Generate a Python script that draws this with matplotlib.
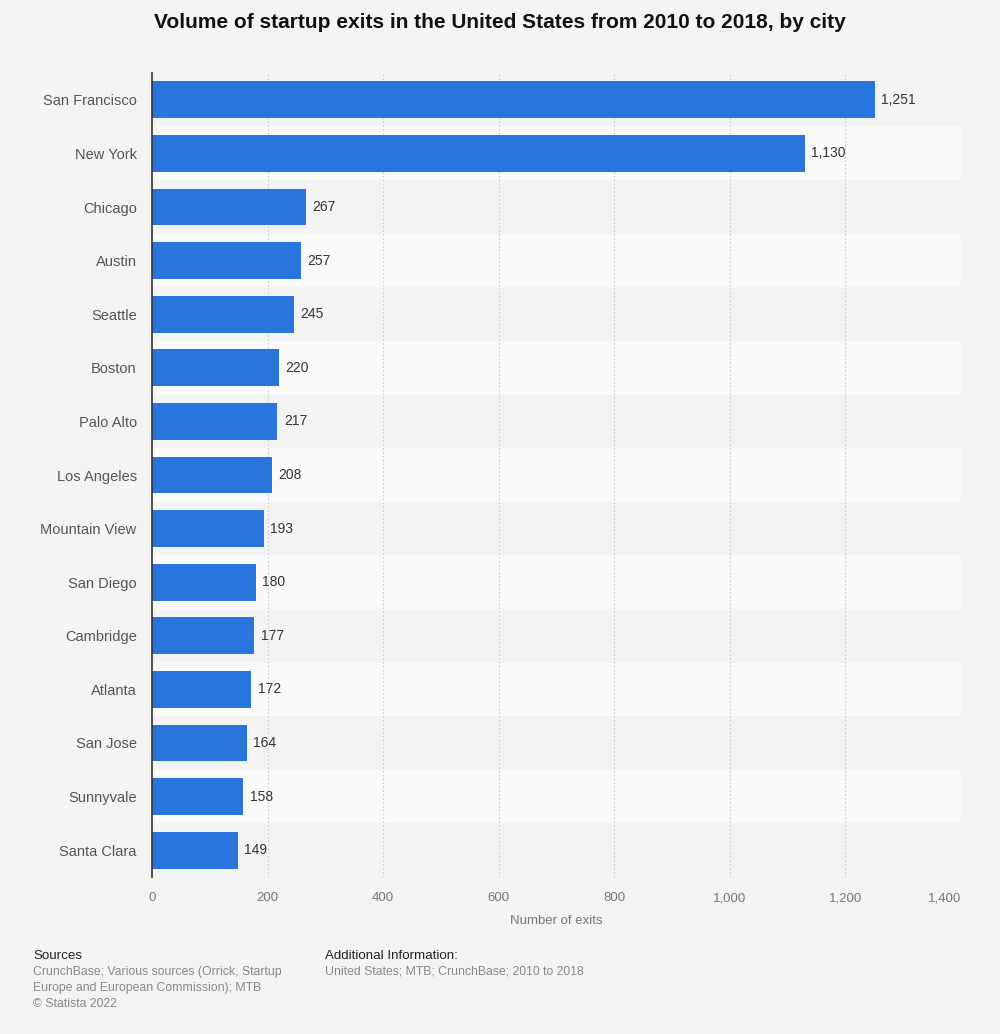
import matplotlib
matplotlib.use("Agg")
import matplotlib.pyplot as plt
import numpy as np

plt.rcParams["font.family"] = ["Liberation Sans", "DejaVu Sans"]

cities = [
    "San Francisco", "New York", "Chicago", "Austin", "Seattle", "Boston",
    "Palo Alto", "Los Angeles", "Mountain View", "San Diego", "Cambridge",
    "Atlanta", "San Jose", "Sunnyvale", "Santa Clara",
]
exits = [1251, 1130, 267, 257, 245, 220, 217, 208, 193, 180, 177, 172, 164, 158, 149]
x_ticks = [0, 200, 400, 600, 800, 1000, 1200, 1400]

bg = "#f4f4f4"
bar_color = "#2876dd"

W, H = 1000, 1034
fig = plt.figure(figsize=(W / 100, H / 100), dpi=100, facecolor=bg)
left, right, top, bottom = 152, 961, 73, 877
ax = fig.add_axes([left / W, 1 - bottom / H, (right - left) / W, (bottom - top) / H])
ax.set_facecolor(bg)

n = len(cities)
y = np.arange(n)

# alternating row bands
for i in range(n):
    if i % 2 == 1:
        ax.axhspan(i - 0.5, i + 0.5, color="#fafafa", zorder=0, lw=0)

for xt in x_ticks[1:]:
    ax.axvline(xt, color="#cccccc", lw=0.8, ls=(0, (1.5, 2)), zorder=1)

ax.barh(y, exits, height=0.69, color=bar_color, zorder=2)

for yi, v in zip(y, exits):
    ax.text(v + 11, yi, f"{v:,}", va="center", ha="left", fontsize=10, color="#333333", zorder=3)

ax.set_xlim(0, 1400)
ax.set_ylim(n - 0.5, -0.5)
ax.set_yticks(y)
ax.set_yticklabels(cities, fontsize=10.5, color="#555555")
ax.set_xticks(x_ticks)
ax.set_xticklabels([f"{t:,}" for t in x_ticks], fontsize=9.5, color="#777777")
ax.get_xticklabels()[-1].set_ha("right")
ax.tick_params(axis="y", length=0, pad=11)
ax.tick_params(axis="x", length=0, pad=11)
for s in ["top", "right", "bottom"]:
    ax.spines[s].set_visible(False)
ax.spines["left"].set_color("#333333")
ax.spines["left"].set_linewidth(1.2)
ax.spines["left"].set_zorder(4)

ax.set_xlabel("Number of exits", fontsize=9.5, color="#777777", labelpad=8)

fig.text(0.5, 1 - 22 / H, "Volume of startup exits in the United States from 2010 to 2018, by city",
         ha="center", va="center", fontsize=15, fontweight="bold", color="#111111")

fig.text(33 / W, 1 - 956 / H, "Sources", fontsize=9.6, color="#222222", va="center")
fig.text(33 / W, 1 - 972 / H, "CrunchBase; Various sources (Orrick, Startup", fontsize=8.8,
         color="#888888", va="center")
fig.text(33 / W, 1 - 988 / H, "Europe and European Commission); MTB", fontsize=8.8,
         color="#888888", va="center")
fig.text(33 / W, 1 - 1004 / H, "© Statista 2022", fontsize=8.8, color="#888888", va="center")
fig.text(325 / W, 1 - 956 / H, "Additional Information:", fontsize=9.6, color="#222222", va="center")
fig.text(325 / W, 1 - 972 / H, "United States; MTB; CrunchBase; 2010 to 2018", fontsize=8.8,
         color="#888888", va="center")

fig.savefig("out.png", dpi=100, facecolor=bg)
